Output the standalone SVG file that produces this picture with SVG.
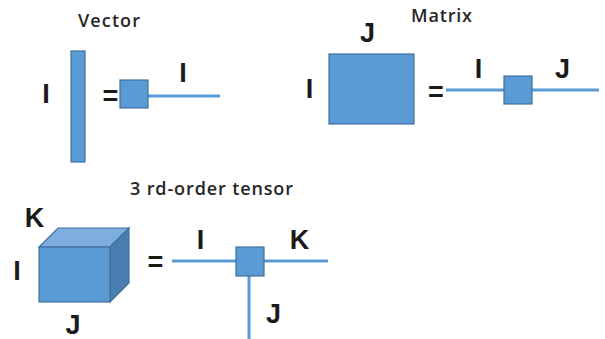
<svg xmlns="http://www.w3.org/2000/svg" width="605" height="339" viewBox="0 0 605 339">
  <style>
    .title { font-family: "Open Sans", "Liberation Sans", sans-serif; font-weight: 600; font-size: 18px; fill: #262626; }
    .idx { font-family: "Liberation Sans", Arial, sans-serif; font-weight: bold; font-size: 27px; fill: #1a1a1a; text-anchor: middle; }
    .eq { font-family: "Liberation Sans", Arial, sans-serif; font-weight: bold; font-size: 27px; fill: #1a1a1a; text-anchor: middle; }
    .block { fill: #5B9BD5; stroke: #41719C; stroke-width: 1.2; }
    .top { fill: #7DAEDF; stroke: #41719C; stroke-width: 1.2; }
    .side { fill: #4A7EB0; stroke: #41719C; stroke-width: 1.2; }
    .leg { stroke: #5B9BD5; stroke-width: 3; fill: none; }
  </style>

  <!-- section titles -->
  <text class="title" x="78" y="27" textLength="62" lengthAdjust="spacing">Vector</text>
  <text class="title" x="411" y="22" textLength="61" lengthAdjust="spacing">Matrix</text>
  <text class="title" x="130" y="195" textLength="163" lengthAdjust="spacing">3 rd-order tensor</text>

  <!-- connectors (tensor legs) -->
  <g id="connectors">
    <line class="leg" x1="148" y1="96" x2="220" y2="96"/>
    <line class="leg" x1="446" y1="90" x2="504" y2="90"/>
    <line class="leg" x1="532" y1="90" x2="599" y2="90"/>
    <line class="leg" x1="172" y1="261" x2="236" y2="261"/>
    <line class="leg" x1="264" y1="261" x2="328" y2="261"/>
    <line class="leg" x1="249" y1="276" x2="249" y2="339"/>
  </g>

  <!-- vector -->
  <g id="vector-array">
    <rect class="block" x="71" y="51" width="14" height="111"/>
    <text class="idx" x="46" y="103">I</text>
  </g>
  <text class="eq" x="110.5" y="105">=</text>
  <g id="vector-node">
    <rect class="block" x="120" y="80" width="28" height="28"/>
    <text class="idx" x="183" y="82">I</text>
  </g>

  <!-- matrix -->
  <g id="matrix-array">
    <rect class="block" x="329" y="54" width="85" height="70"/>
    <text class="idx" x="309.5" y="98">I</text>
    <text class="idx" x="367.5" y="42">J</text>
  </g>
  <text class="eq" x="436" y="101">=</text>
  <g id="matrix-node">
    <rect class="block" x="504" y="76" width="28" height="28"/>
    <text class="idx" x="478.5" y="78">I</text>
    <text class="idx" x="562.5" y="78">J</text>
  </g>

  <!-- 3rd-order tensor -->
  <g id="tensor-array">
    <polygon class="top" points="39,247 58,228 129,228 110,247"/>
    <polygon class="side" points="110,247 129,228 129,283 110,302"/>
    <rect class="block" x="39" y="247" width="71" height="55"/>
    <text class="idx" x="34.5" y="227">K</text>
    <text class="idx" x="17" y="280">I</text>
    <text class="idx" x="73" y="334">J</text>
  </g>
  <text class="eq" x="155.5" y="271">=</text>
  <g id="tensor-node">
    <rect class="block" x="236" y="247" width="28" height="29"/>
    <text class="idx" x="200.5" y="249">I</text>
    <text class="idx" x="299.5" y="249">K</text>
    <text class="idx" x="273.5" y="323">J</text>
  </g>
</svg>
